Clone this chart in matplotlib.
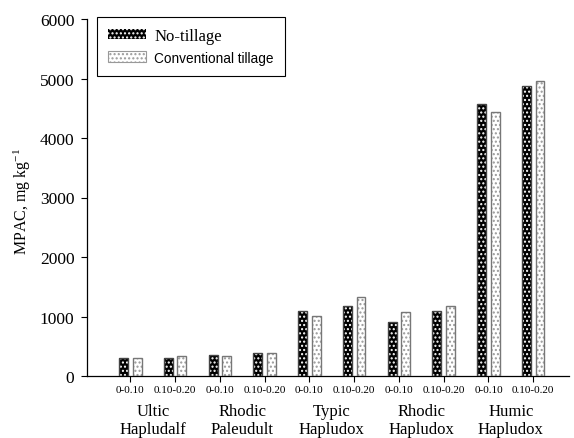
import matplotlib
matplotlib.use("Agg")
import matplotlib.pyplot as plt
from matplotlib.patches import Patch
import numpy as np

depths = ["0-0.10", "0.10-0.20"] * 5
soils = ["Ultic\nHapludalf", "Rhodic\nPaleudult", "Typic\nHapludox", "Rhodic\nHapludox", "Humic\nHapludox"]
no_tillage = [310, 295, 350, 380, 1095, 1170, 900, 1090, 4570, 4880]
conventional = [300, 330, 340, 385, 1010, 1320, 1075, 1170, 4430, 4960]
yticks = [0, 1000, 2000, 3000, 4000, 5000, 6000]

serif = "Liberation Serif"
sans = "Liberation Sans"
plt.rcParams["mathtext.fontset"] = "custom"
plt.rcParams["mathtext.rm"] = serif
plt.rcParams["mathtext.it"] = serif + ":italic"
plt.rcParams["mathtext.default"] = "regular"

fig = plt.figure(figsize=(5.74, 4.39), dpi=100)
ax = fig.add_axes([87/574, 1-377/439, (569-87)/574, (377-20)/439])

x = np.arange(len(depths))
w = 0.2
off = 0.152

# No-tillage: black with white dots
ax.bar(x - off, no_tillage, w, color="#000000", edgecolor="white", hatch="....", linewidth=0, zorder=2)
ax.bar(x - off, no_tillage, w, fill=False, edgecolor="#444444", linewidth=1.0, zorder=3)
# Conventional: white with grey dots
ax.bar(x + off, conventional, w, color="white", edgecolor="#999999", hatch="....", linewidth=0, zorder=2)
ax.bar(x + off, conventional, w, fill=False, edgecolor="#777777", linewidth=1.0, zorder=3)

ax.set_xlim(-0.97, 9.8)
ax.set_ylim(0, 6000)
ax.set_yticks(yticks)
ax.set_yticklabels([str(v) for v in yticks], fontfamily=serif, fontsize=12.5)
ax.set_xticks(x)
ax.set_xticklabels(depths, fontfamily=serif, fontsize=8)
ax.tick_params(axis="x", length=4, width=0.8, pad=2.5)
ax.tick_params(axis="y", length=4, width=0.8, pad=5)
for s in ["top", "right"]:
    ax.spines[s].set_visible(False)
for s in ["left", "bottom"]:
    ax.spines[s].set_linewidth(0.9)

for i, name in enumerate(soils):
    ax.text(2*i + 0.5, -0.123, name, transform=ax.get_xaxis_transform(),
            ha="center", va="center", fontfamily=serif, fontsize=12, linespacing=1.1)

fig.text(22/574, 1-201/439, "MPAC, mg kg$^{-1}$", rotation=90, ha="center", va="center",
         fontfamily=serif, fontsize=11.5)

handles = [Patch(facecolor="#000000", edgecolor="white", hatch="....", linewidth=0),
           Patch(facecolor="white", edgecolor="#999999", hatch="....", linewidth=0.8)]
leg = ax.legend(handles, ["No-tillage", "Conventional tillage"], loc="upper left",
                bbox_to_anchor=(97/574, 1-18/439), bbox_transform=fig.transFigure,
                frameon=True, fancybox=False, edgecolor="black", framealpha=1,
                borderaxespad=0, handlelength=2.3, handleheight=0.6, handletextpad=0.5,
                borderpad=0.65, labelspacing=0.45, prop={"family": serif, "size": 12})
leg.get_frame().set_linewidth(0.8)
texts = leg.get_texts()
texts[1].set_fontfamily(sans)
texts[1].set_fontsize(9.8)

fig.savefig("out.png", dpi=100)
